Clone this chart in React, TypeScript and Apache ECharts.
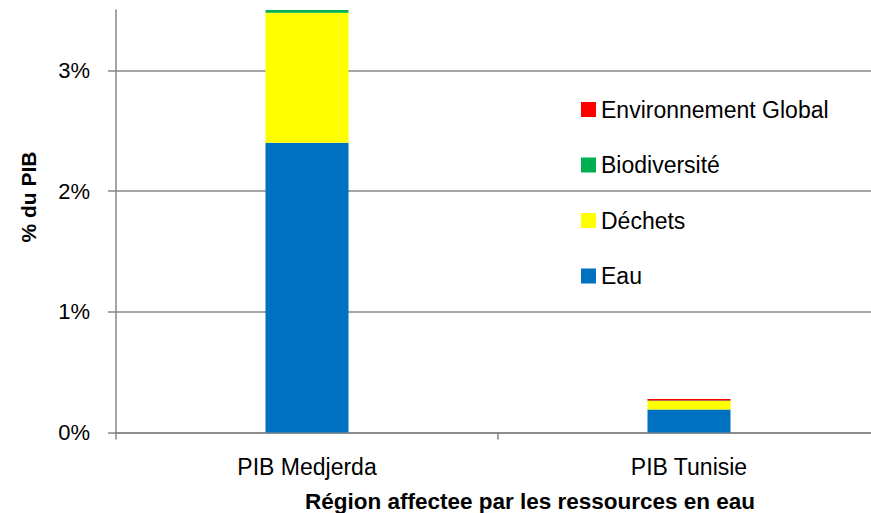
import React, { useEffect, useRef } from "react";
import * as echarts from "echarts";

const categories = ["PIB Medjerda", "PIB Tunisie"];
const eau = [2.4, 0.19];
const dechets = [1.077, 0.07];
const biodiversite = [0.025, 0.005];
const envGlobal = [0, 0.012];
const yTickValues = [0, 1, 2, 3];
const seriesNames = ["Eau", "Déchets", "Biodiversité", "Environnement Global"];
const yAxisTitle = "% du PIB";
const xAxisTitle = "Région affectee par les ressources en eau";

const FONT = "'Liberation Sans', Arial, sans-serif";
const GRAY = "#868686";

export default function App() {
  const ref = useRef<HTMLDivElement>(null);
  useEffect(() => {
    if (!ref.current) return;
    const chart = echarts.init(ref.current, undefined, { renderer: "svg" });
    const colors = ["#0070C0", "#FFFF00", "#00B050", "#FF0000"];
    const data = [eau, dechets, biodiversite, envGlobal];
    chart.setOption({
      animation: false,
      backgroundColor: "#ffffff",
      textStyle: { fontFamily: FONT },
      grid: { left: 116, right: 0, top: 10, bottom: 80.5 },
      legend: {
        orient: "vertical",
        left: 576,
        top: 93,
        padding: 5,
        itemWidth: 15,
        itemHeight: 15,
        itemGap: 32.5,
        icon: "rect",
        data: [...seriesNames].reverse(),
        textStyle: { fontSize: 23, color: "#000", fontFamily: FONT, lineHeight: 23 },
      },
      xAxis: {
        type: "category",
        data: categories,
        axisLine: { lineStyle: { color: GRAY, width: 1.5 } },
        axisTick: { show: true, length: 7, lineStyle: { color: GRAY, width: 1.5 } },
        axisLabel: { color: "#000", fontSize: 23, margin: 23, fontFamily: FONT },
        splitLine: { show: false },
      },
      yAxis: {
        type: "value",
        min: 0,
        max: 3.5,
        interval: 1,
        axisLine: { show: true, lineStyle: { color: GRAY, width: 1.5 } },
        axisTick: {
          show: true,
          length: 8,
          customValues: yTickValues,
          lineStyle: { color: GRAY, width: 1.5 },
        },
        axisLabel: {
          color: "#000",
          fontSize: 22,
          margin: 26,
          customValues: yTickValues,
          fontFamily: FONT,
          formatter: (v: number) => `${v}%`,
        },
        splitLine: { show: true, lineStyle: { color: GRAY, width: 1.5 } },
      },
      series: seriesNames.map((name, i) => ({
        name,
        type: "bar",
        stack: "total",
        barWidth: 83,
        itemStyle: { color: colors[i] },
        data: data[i],
      })),
      graphic: [
        {
          type: "text",
          x: 28,
          y: 197,
          rotation: Math.PI / 2,
          style: {
            text: yAxisTitle,
            fontSize: 21,
            fontWeight: "bold",
            fontFamily: FONT,
            fill: "#000",
            align: "center",
            verticalAlign: "middle",
          },
        },
        {
          type: "text",
          x: 530,
          y: 501,
          style: {
            text: xAxisTitle,
            fontSize: 22.5,
            fontWeight: "bold",
            fontFamily: FONT,
            fill: "#000",
            align: "center",
            verticalAlign: "middle",
          },
        },
      ],
    });
    return () => chart.dispose();
  }, []);
  return (
    <div
      ref={ref}
      style={{ position: "fixed", left: 0, top: 0, width: 880, height: 513 }}
    />
  );
}
